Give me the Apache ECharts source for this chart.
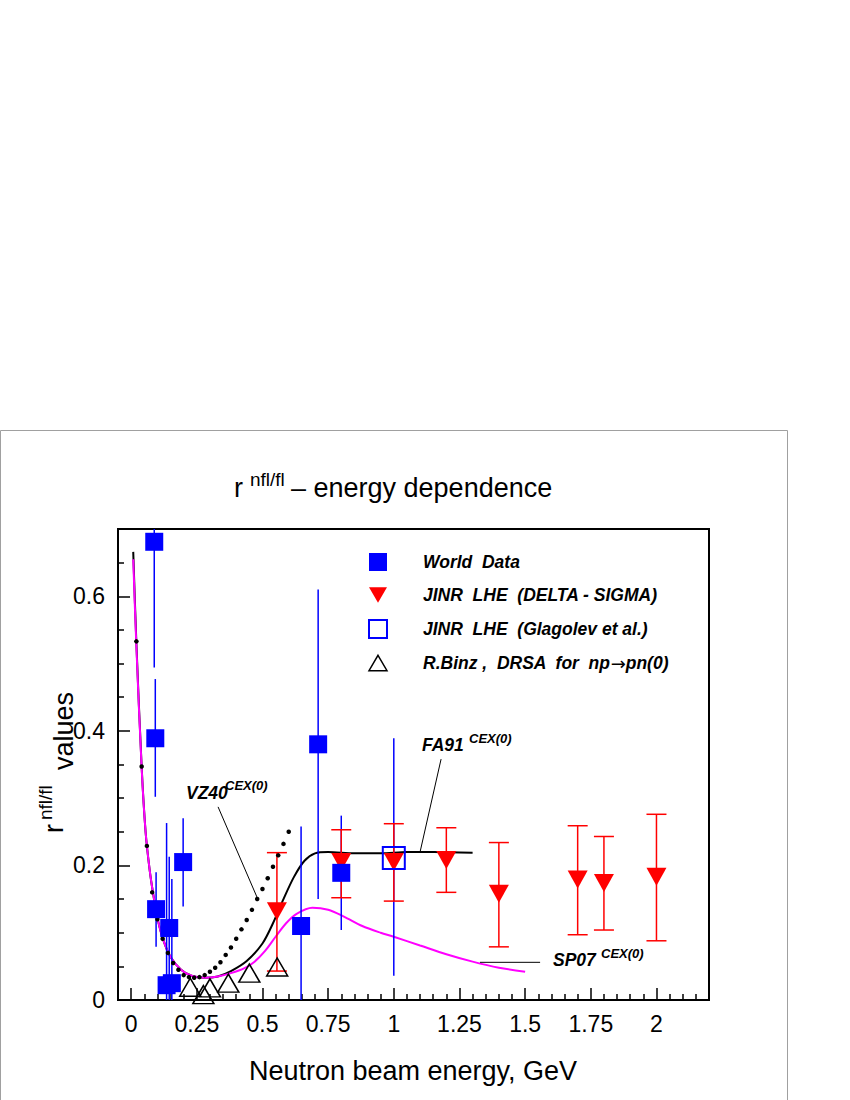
<!DOCTYPE html>
<html>
<head>
<meta charset="utf-8">
<script src="https://cdn.jsdelivr.net/npm/echarts@6/dist/echarts.min.js"></script>
<style>
  html, body { margin: 0; padding: 0; background: #fff; }
  #chart { width: 850px; height: 1100px; }
</style>
</head>
<body>
<div id="chart"></div>
<script>
// World data (blue filled squares) with vertical error bars
const worldX  = [0.088, 0.092, 0.095, 0.145, 0.135, 0.155, 0.198, 0.647, 0.712, 0.80];
const worldY  = [0.681, 0.389, 0.135, 0.107, 0.022, 0.025, 0.205, 0.110, 0.380, 0.189];
const worldLo = [0.494, 0.302, 0.079, 0.0,   0.0,   0.0,   0.139, 0.0,   0.150, 0.104];
const worldHi = [0.760, 0.477, 0.190, 0.213, 0.263, 0.180, 0.270, 0.258, 0.610, 0.274];

// JINR LHE (DELTA - SIGMA), red down triangles with capped error bars
const jinrX  = [0.555, 0.80, 1.00, 1.20, 1.40, 1.70, 1.80, 2.00];
const jinrY  = [0.132, 0.205, 0.205, 0.208, 0.158, 0.179, 0.174, 0.183];
const jinrLo = [0.043, 0.152, 0.147, 0.160, 0.079, 0.097, 0.104, 0.088];
const jinrHi = [0.219, 0.253, 0.262, 0.256, 0.234, 0.259, 0.243, 0.276];

// JINR LHE (Glagolev et al.), open blue square
const glagX  = [1.0];
const glagY  = [0.211];
const glagLo = [0.036];
const glagHi = [0.389];

// R.Binz DRSA, open triangles
const binzX = [0.225, 0.275, 0.300, 0.370, 0.450, 0.556];
const binzY = [0.019, 0.008, 0.018, 0.025, 0.040, 0.049];

// FA91 (black solid)
const fa91X = [0.008, 0.02, 0.04, 0.055, 0.07, 0.085, 0.10, 0.12, 0.15, 0.19, 0.23, 0.28, 0.33, 0.38, 0.44, 0.50, 0.54, 0.58, 0.62, 0.66, 0.70, 0.75, 0.85, 0.95, 1.05, 1.15, 1.30];
const fa91Y = [0.666, 0.53, 0.347, 0.25, 0.195, 0.155, 0.122, 0.092, 0.064, 0.045, 0.036, 0.033, 0.035, 0.043, 0.058, 0.084, 0.114, 0.150, 0.183, 0.207, 0.218, 0.220, 0.218, 0.218, 0.220, 0.220, 0.219];

// SP07 (magenta)
const sp07X = [0.008, 0.02, 0.04, 0.055, 0.07, 0.085, 0.10, 0.12, 0.15, 0.19, 0.23, 0.28, 0.33, 0.38, 0.43, 0.47, 0.51, 0.55, 0.59, 0.63, 0.69, 0.75, 0.81, 0.88, 0.95, 1.0, 1.1, 1.2, 1.3, 1.4, 1.5];
const sp07Y = [0.655, 0.525, 0.345, 0.25, 0.195, 0.155, 0.122, 0.092, 0.064, 0.045, 0.036, 0.033, 0.035, 0.040, 0.047, 0.057, 0.073, 0.094, 0.114, 0.128, 0.137, 0.134, 0.124, 0.110, 0.100, 0.094, 0.081, 0.068, 0.057, 0.048, 0.042];

// VZ40 (black dots)
const vz40X = [0.02, 0.04, 0.06, 0.08, 0.10, 0.12, 0.14, 0.16, 0.18, 0.20, 0.22, 0.24, 0.26, 0.28, 0.30, 0.32, 0.34, 0.36, 0.38, 0.40, 0.42, 0.44, 0.46, 0.48, 0.50, 0.52, 0.54, 0.56, 0.58, 0.60];
const vz40Y = [0.533, 0.347, 0.229, 0.160, 0.120, 0.091, 0.070, 0.055, 0.045, 0.037, 0.034, 0.033, 0.034, 0.037, 0.042, 0.048, 0.056, 0.067, 0.078, 0.091, 0.105, 0.119, 0.134, 0.150, 0.165, 0.181, 0.198, 0.215, 0.232, 0.250];

// axis ticks
const xMajor = [0, 0.25, 0.5, 0.75, 1, 1.25, 1.5, 1.75, 2];
const yMajor = [0, 0.2, 0.4, 0.6];
const xMinor = [];
for (let i = 1; i < 44; i++) if (i % 5 !== 0) xMinor.push(+(i * 0.05).toFixed(2));
const yMinor = [];
for (let i = 1; i < 14; i++) if (i % 4 !== 0) yMinor.push(+(i * 0.05).toFixed(2));

const FONT = '"Liberation Sans", Arial, Helvetica, sans-serif';
const BLUE = '#0000ff';
const RED = '#ff0000';
const MAGENTA = '#ff00ff';

const chart = echarts.init(document.getElementById('chart'), null, { renderer: 'svg' });

const pairs = (xs, ys) => xs.map((x, i) => [x, ys[i]]);
const bars = (xs, lo, hi) => xs.map((x, i) => [x, lo[i], hi[i]]);

function errorBars(color, capWidth) {
  return function (params, api) {
    const x = api.value(0);
    const top = api.coord([x, api.value(2)]);
    const bot = api.coord([x, api.value(1)]);
    const style = { stroke: color, lineWidth: 1.5 };
    const children = [{ type: 'line', shape: { x1: top[0], y1: top[1], x2: bot[0], y2: bot[1] }, style }];
    if (capWidth) {
      const h = capWidth / 2;
      children.push({ type: 'line', shape: { x1: top[0] - h, y1: top[1], x2: top[0] + h, y2: top[1] }, style });
      children.push({ type: 'line', shape: { x1: bot[0] - h, y1: bot[1], x2: bot[0] + h, y2: bot[1] }, style });
    }
    return { type: 'group', children };
  };
}

const valueAxis = (min, max) => ({
  type: 'value', min, max,
  splitLine: { show: false },
  axisLine: { onZero: false },
});

const legendText = { fontFamily: FONT, fontSize: 17.5, fontStyle: 'italic', fontWeight: 'bold', color: '#000' };

const option = {
  animation: false,
  grid: { left: 118, right: 141, top: 529, bottom: 100, show: true, borderColor: '#000', borderWidth: 2 },
  legend: {
    orient: 'vertical', left: 363, top: 548,
    itemWidth: 18, itemHeight: 18, itemGap: 15,
    selectedMode: false,
    formatter: (name) => '{t|' + name.replace('\u2192', '}{a|\u2192}{t|') + '}',
    textStyle: Object.assign({}, legendText, {
      rich: {
        t: Object.assign({ padding: 0 }, legendText),
        a: Object.assign({}, legendText, { fontFamily: '"DejaVu Sans", sans-serif', fontStyle: 'normal', fontWeight: 'normal', fontSize: 18 }),
      },
      padding: [0, 0, 0, 31],
    }),
    data: [
      { name: 'World  Data', icon: 'rect', itemStyle: { color: BLUE } },
      { name: 'JINR  LHE  (DELTA - SIGMA)', icon: 'path://M0,0L20,0L10,17Z', itemStyle: { color: RED } },
      { name: 'JINR  LHE  (Glagolev et al.)', icon: 'rect', itemStyle: { color: 'rgba(0,0,0,0)', borderColor: BLUE, borderWidth: 2 } },
      { name: 'R.Binz ,  DRSA  for  np\u2192pn(0)', icon: 'path://M10,0L20,17L0,17Z', itemStyle: { color: 'rgba(0,0,0,0)', borderColor: '#000', borderWidth: 1.5 } },
    ],
  },
  xAxis: [
    Object.assign(valueAxis(-0.05, 2.2), {
      position: 'bottom',
      axisLine: { onZero: false, lineStyle: { color: '#000', width: 2 } },
      axisTick: { inside: true, length: 12, customValues: xMajor, lineStyle: { color: '#000', width: 1.5 } },
      axisLabel: { customValues: xMajor, margin: 12, fontFamily: FONT, fontSize: 23, color: '#000' },
    }),
    Object.assign(valueAxis(-0.05, 2.2), {
      position: 'bottom',
      axisLine: { show: false, onZero: false },
      axisTick: { inside: true, length: 6, customValues: xMinor, lineStyle: { color: '#000', width: 1.5 } },
      axisLabel: { show: false },
    }),
  ],
  yAxis: [
    Object.assign(valueAxis(0, 0.7), {
      position: 'left',
      axisLine: { show: true, onZero: false, lineStyle: { color: '#000', width: 2 } },
      axisTick: { show: true, inside: true, length: 12, customValues: yMajor, lineStyle: { color: '#000', width: 1.5 } },
      axisLabel: { customValues: yMajor, margin: 13, fontFamily: FONT, fontSize: 23, color: '#000' },
    }),
    Object.assign(valueAxis(0, 0.7), {
      position: 'left',
      axisLine: { show: false, onZero: false },
      axisTick: { show: true, inside: true, length: 6, customValues: yMinor, lineStyle: { color: '#000', width: 1.5 } },
      axisLabel: { show: false },
    }),
  ],
  series: [
    {
      name: 'FA91', type: 'line', data: pairs(fa91X, fa91Y),
      showSymbol: false, smooth: 0.3,
      lineStyle: { color: '#000', width: 2 }, z: 2,
    },
    {
      name: 'SP07', type: 'line', data: pairs(sp07X, sp07Y),
      showSymbol: false, smooth: 0.3,
      lineStyle: { color: MAGENTA, width: 2 }, z: 2,
    },
    {
      name: 'VZ40', type: 'scatter', data: pairs(vz40X, vz40Y),
      symbol: 'circle', symbolSize: 4.5, itemStyle: { color: '#000', opacity: 1 }, z: 3,
    },
    {
      name: 'worldErr', type: 'custom', data: bars(worldX, worldLo, worldHi),
      encode: { x: 0, y: [1, 2] }, renderItem: errorBars(BLUE, 0), clip: true, z: 3,
    },
    {
      name: 'glagErr', type: 'custom', data: bars(glagX, glagLo, glagHi),
      encode: { x: 0, y: [1, 2] }, renderItem: errorBars(BLUE, 0), clip: true, z: 3,
    },
    {
      name: 'jinrErr', type: 'custom', data: bars(jinrX, jinrLo, jinrHi),
      encode: { x: 0, y: [1, 2] }, renderItem: errorBars(RED, 20), clip: true, z: 3,
    },
    {
      name: 'R.Binz ,  DRSA  for  np\u2192pn(0)', type: 'scatter', data: pairs(binzX, binzY),
      symbol: 'triangle', symbolSize: [21, 18],
      itemStyle: { color: 'rgba(0,0,0,0)', borderColor: '#000', borderWidth: 1.5, opacity: 1 }, z: 4,
    },
    {
      name: 'JINR  LHE  (DELTA - SIGMA)', type: 'scatter', data: pairs(jinrX, jinrY),
      symbol: 'triangle', symbolRotate: 180, symbolSize: [20, 18],
      itemStyle: { color: RED, opacity: 1 }, z: 4,
    },
    {
      name: 'JINR  LHE  (Glagolev et al.)', type: 'scatter', data: pairs(glagX, glagY),
      symbol: 'rect', symbolSize: 22,
      itemStyle: { color: 'rgba(0,0,0,0)', borderColor: BLUE, borderWidth: 2, opacity: 1 }, z: 4,
    },
    {
      name: 'World  Data', type: 'scatter', data: pairs(worldX, worldY),
      symbol: 'rect', symbolSize: 18, itemStyle: { color: BLUE, opacity: 1 }, z: 5,
    },
  ],
};

chart.setOption(option);

// annotations: texts placed in page pixels, leader lines anchored in data coords
const px = (p) => chart.convertToPixel({ gridIndex: 0 }, p);
const leader = (a, b) => {
  const p = px(a), q = px(b);
  return { type: 'line', shape: { x1: p[0], y1: p[1], x2: q[0], y2: q[1] }, style: { stroke: '#000', lineWidth: 1 }, z: 10 };
};
const txt = (x, y, text, size, extra) => ({
  type: 'text', x, y, z: 10,
  style: Object.assign({ text, fontFamily: FONT, fontSize: size, fill: '#000', align: 'left', verticalAlign: 'middle' }, extra || {}),
});
const bi = { fontStyle: 'italic', fontWeight: 'bold' };

chart.setOption({
  graphic: [
    { type: 'rect', shape: { x: 0.5, y: 430.5, width: 787, height: 700 }, style: { fill: 'none', stroke: '#a0a0a0', lineWidth: 1 }, z: -1 },
    // title
    txt(234, 488, 'r', 27),
    txt(250, 479, 'nfl/fl', 19),
    txt(291, 488, '\u2013 energy dependence', 27),
    // x axis name
    txt(413, 1071, 'Neutron beam energy, GeV', 27, { align: 'center' }),
    // y axis name (rotated)
    Object.assign(txt(54, 833, 'r', 27), { rotation: Math.PI / 2 }),
    Object.assign(txt(45, 820, 'nfl/fl', 19), { rotation: Math.PI / 2 }),
    Object.assign(txt(64, 770, 'values', 27), { rotation: Math.PI / 2 }),
    // curve labels
    txt(186, 793, 'VZ40', 17.5, bi),
    txt(225, 785, 'CEX(0)', 13, bi),
    txt(422, 745, 'FA91', 17.5, bi),
    txt(469, 738, 'CEX(0)', 13, bi),
    txt(553, 960, 'SP07', 17.5, bi),
    txt(601, 953, 'CEX(0)', 13, bi),
    leader([0.331, 0.287], [0.479, 0.153]),
    leader([1.18, 0.358], [1.10, 0.22]),
    leader([1.328, 0.056], [1.557, 0.056]),
  ],
});
</script>
</body>
</html>
